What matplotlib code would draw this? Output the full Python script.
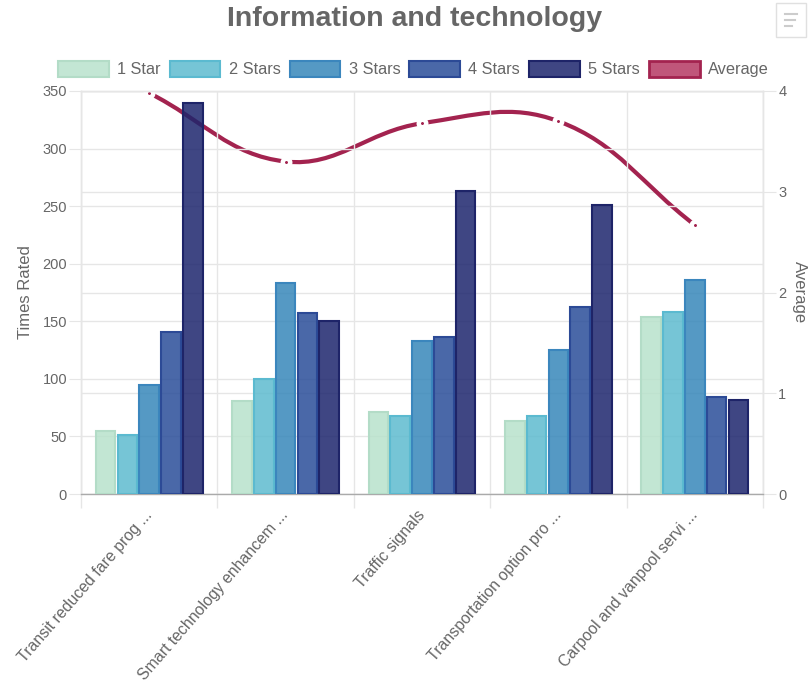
import numpy as np
import matplotlib
matplotlib.use("Agg")
from matplotlib import pyplot as plt, patches
from matplotlib.path import Path
from matplotlib.lines import Line2D
from matplotlib.transforms import ScaledTranslation

plt.rcParams['font.family'] = ['Liberation Sans', 'DejaVu Sans']

categories = ["Transit reduced fare prog ...", "Smart technology enhancem ...",
              "Traffic signals", "Transportation option pro ...",
              "Carpool and vanpool servi ..."]
series_names = ["1 Star", "2 Stars", "3 Stars", "4 Stars", "5 Stars"]
star1 = [55, 81, 71, 63, 154]
star2 = [51, 100, 68, 68, 158]
star3 = [95, 183, 133, 125, 186]
star4 = [141, 157, 136, 162, 84]
star5 = [340, 150, 263, 251, 82]
average = [3.98, 3.30, 3.68, 3.70, 2.67]

fills = ["#c3e6d4", "#76c5d6", "#5599c4", "#4a68a8", "#3f4683"]
edges = ["#b3dcc7", "#5bbad0", "#3b86bd", "#2c4a96", "#1e2468"]
line_col = "#a3234f"
txt = "#666666"
grid_col = "#e6e6e6"
alpha = 0.85


def unblend(hexcol):
    # colour that gives hexcol over white at the given alpha
    c = np.array(matplotlib.colors.to_rgb(hexcol))
    return tuple(np.clip((c - (1 - alpha)) / alpha, 0, 1)) + (alpha,)


W, H = 809, 692
fig = plt.figure(figsize=(W / 100, H / 100), dpi=100)
ax = fig.add_axes([81 / W, 1 - 494 / H, (763 - 81) / W, (494 - 91) / H])
ax2 = ax.twinx()
# bars sit above the line, line above the grids
ax.set_zorder(ax2.get_zorder() + 1)
ax.patch.set_visible(False)

x = np.arange(len(categories))
bw = 0.8 / 5 * 0.9
for i, vals in enumerate([star1, star2, star3, star4, star5]):
    ax.bar(x - 0.4 + 0.08 + i * 0.16, vals, width=bw, color=unblend(fills[i]),
           edgecolor=edges[i], linewidth=1.5, zorder=3)

ax.set_xlim(-0.5, len(categories) - 0.5)
ax.set_ylim(0, 350)
ax.set_yticks(range(0, 351, 50))
ax2.set_ylim(0, 4)
ax2.set_yticks(range(0, 5))

ax.set_xticks(x)
ax.set_xticklabels(categories, rotation=49, ha='right', va='center',
                   rotation_mode='anchor', color=txt, fontsize=11.4)
shift = ScaledTranslation(5 / 72, 0, fig.dpi_scale_trans)
for lab in ax.get_xticklabels():
    lab.set_transform(lab.get_transform() + shift)
ax.set_xticks(np.arange(-0.5, len(categories), 1.0), minor=True)
ax.tick_params(axis='x', which='major', length=0, pad=13)
ax.tick_params(axis='x', which='minor', length=10, color=grid_col, width=1)
ax.tick_params(axis='y', length=9, color=grid_col, labelcolor=txt, labelsize=10.5, pad=1)
ax2.tick_params(axis='y', length=9, color=grid_col, labelcolor=txt, labelsize=10.5, pad=2)

ax.grid(True, axis='y', color=grid_col, lw=1, zorder=0)
ax.grid(True, axis='x', which='minor', color=grid_col, lw=1, zorder=0)
ax2.grid(True, axis='y', color=grid_col, lw=1, zorder=0)
ax.set_axisbelow(True)
ax2.set_axisbelow(True)
for a in (ax, ax2):
    for s in a.spines.values():
        s.set_color(grid_col)
        s.set_linewidth(1)
ax.spines['bottom'].set_color("#aaaaaa")
ax2.spines['bottom'].set_visible(False)

ax.set_ylabel("Times Rated", color=txt, fontsize=12, labelpad=7)
ax2.set_ylabel("Average", color=txt, fontsize=12, rotation=270, labelpad=15)

# smooth line like chart.js (tension 0.4), control points computed in pixels
pts = ax2.transData.transform(np.column_stack([x, average]))
t = 0.4
n = len(pts)
verts = [pts[0]]
codes = [Path.MOVETO]
cps = []
for i in range(n):
    prev = pts[i - 1] if i > 0 else pts[i]
    cur = pts[i]
    nxt = pts[i + 1] if i < n - 1 else pts[i]
    d01 = np.hypot(*(cur - prev))
    d12 = np.hypot(*(nxt - cur))
    tot = d01 + d12
    s01 = d01 / tot if tot else 0
    s12 = d12 / tot if tot else 0
    cps.append((cur - t * s01 * (nxt - prev), cur + t * s12 * (nxt - prev)))
for i in range(n - 1):
    verts += [cps[i][1], cps[i + 1][0], pts[i + 1]]
    codes += [Path.CURVE4] * 3
inv = ax2.transData.inverted()
path = Path(inv.transform(np.array(verts)), codes)
ax2.add_patch(patches.PathPatch(path, facecolor='none', edgecolor=line_col,
                                lw=3.0, capstyle='butt', zorder=4))
ax2.plot(x, average, ls='none', marker='o', ms=5.4, mfc=line_col,
         mec='white', mew=3.2, zorder=5)

fig.text(0.512, 1 - 19 / H, "Information and technology", ha='center',
         va='center', fontsize=20.5, fontweight='bold', color=txt)

handles = [patches.Patch(facecolor=fills[i], edgecolor=edges[i], lw=1.5,
                         label=series_names[i]) for i in range(5)]
handles.append(patches.Patch(facecolor="#c0567a", edgecolor=line_col, lw=2,
                             label="Average"))
fig.legend(handles=handles, loc='center', bbox_to_anchor=(0.511, 1 - 69 / H),
           ncol=6, frameon=False, fontsize=11.8, handlelength=3.1,
           handleheight=1.1, handletextpad=0.5, columnspacing=0.55,
           labelcolor=txt, borderaxespad=0, borderpad=0)

# menu icon in the corner
fig.add_artist(patches.Rectangle((776 / W, 1 - 37 / H), 30 / W, 34 / H,
                                 transform=fig.transFigure, fc='white',
                                 ec='#e0e0e0', lw=1))
for yy, ln in [(14, 12), (20, 10), (26, 7)]:
    fig.add_artist(Line2D([785 / W, (785 + ln) / W], [1 - yy / H] * 2,
                          transform=fig.transFigure, color='#cccccc', lw=1.5))

fig.savefig("out.png", dpi=100)
